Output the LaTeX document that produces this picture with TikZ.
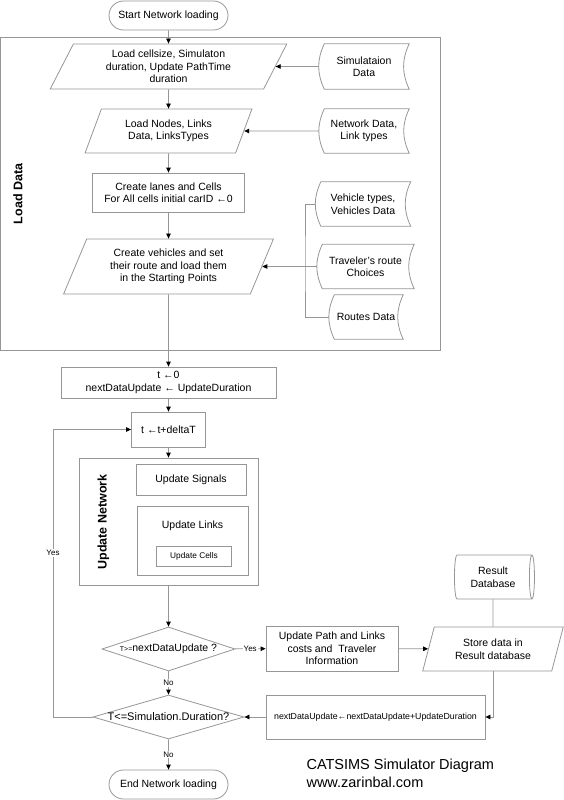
\documentclass[tikz,border=0pt]{standalone}
\usepackage{fontspec}
\setmainfont{Liberation Sans}
\usetikzlibrary{arrows.meta,shapes.geometric,shapes.misc,calc}
\definecolor{linegray}{RGB}{150,150,150}

\begin{document}
\begin{tikzpicture}[x=1pt,y=-1pt]
\tikzset{
  base/.style={font=\fontsize{10.5}{12.5}\selectfont,align=center,inner sep=1pt},
  terminal/.style={base,rounded rectangle,draw=linegray,line width=0.8pt,minimum width=121,minimum height=29},
  process/.style={base,rectangle,draw=linegray,line width=0.8pt},
  io/.style={base,trapezium,trapezium stretches=true,draw=linegray,line width=0.8pt},
  decision/.style={base,diamond,draw=linegray,line width=0.8pt,inner sep=0pt},
  datastore/.style={base},
  frame/.style={draw=linegray,line width=0.8pt,inner sep=0pt},
  boldlbl/.style={font=\bfseries\fontsize{12.5}{14}\selectfont},
  arr/.style={draw=linegray,line width=0.8pt,-{Triangle[length=5pt,width=4.5pt,color=black]}},
  plain/.style={draw=linegray,line width=0.8pt},
  lbl/.style={font=\fontsize{8}{9}\selectfont,fill=white,inner sep=1pt}
}
\useasboundingbox (0,0) rectangle (564,800);
\node[terminal] (start) at (168.5,15.5) {Start Network loading};
\node[frame,minimum width=440,minimum height=313] (loadframe) at (220.5,193.5) {};
\node[boldlbl,rotate=90] (loadlbl) at (18,194) {Load Data};
\node[io,trapezium left angle=66,trapezium right angle=114,minimum width=237,minimum height=45] (p1) at (168.5,66.5) {Load cellsize, Simulaton\\duration, Update PathTime\\duration};
\node[datastore,minimum width=90,minimum height=45] (simdata) at (364,66.5) {Simulataion\\Data};
\node[io,trapezium left angle=66,trapezium right angle=114,minimum width=167,minimum height=44] (p2) at (168.5,131) {Load Nodes, Links\\Data, LinksTypes};
\node[datastore,minimum width=90,minimum height=44] (netdata) at (364,131) {Network Data,\\Link types};
\node[process,minimum width=152,minimum height=39] (lanes) at (168.5,192.5) {Create lanes and Cells\\For All cells initial carID ←0};
\node[datastore,minimum width=95,minimum height=44] (vehdata) at (363,204) {Vehicle types,\\Vehicles Data};
\node[io,trapezium left angle=65.5,trapezium right angle=114.5,minimum width=210,minimum height=55] (p3) at (168.5,266.5) {Create vehicles and set\\their route and load them\\in the Starting Points};
\node[datastore,minimum width=97,minimum height=44] (travdata) at (365.5,266.5) {Traveler’s route\\Choices};
\node[datastore,minimum width=74,minimum height=44] (routedata) at (366,317) {Routes Data};
\coordinate (brk) at (305,266.5);
% stored data outlines
\foreach \d in {simdata,netdata,vehdata,travdata,routedata}
  \draw[plain] ([xshift=5.5pt]\d.north west) to[bend right=25] ([xshift=5.5pt]\d.south west) -- (\d.south east) to[bend left=25] (\d.north east) -- cycle;

\node[process,minimum width=215,minimum height=31] (tinit) at (168.5,382.5) {t ←0\\nextDataUpdate ←  UpdateDuration};
\node[process,minimum width=74,minimum height=35] (tstep) at (168.5,429.5) {t ←t+deltaT};
\node[frame,minimum width=179,minimum height=127] (updnet) at (168.5,521.5) {};
\node[boldlbl,rotate=90] (updnetlbl) at (103.5,522) {Update Network};
\node[process,minimum width=110,minimum height=31] (signals) at (191,479.5) {Update Signals};
\node[frame,minimum width=111,minimum height=69] (linksbox) at (192.5,540.5) {};
\node[base] (linkslbl) at (192.5,526) {Update Links};
\node[process,minimum width=74.5,minimum height=20,font=\fontsize{8.3}{10}\selectfont] (cells) at (194,556) {Update Cells};

\node[decision,minimum width=133,minimum height=44] (dnext) at (168.5,649) {\makebox[0pt]{{\fontsize{7}{8}\selectfont T>=}nextDataUpdate ?}};
\node[process,minimum width=132,minimum height=45] (updpath) at (332,648.5) {Update Path and Links\\costs and~ Traveler\\Information};
\node[io,trapezium left angle=71,trapezium right angle=109,minimum width=141,minimum height=44] (store) at (493,649) {Store data in\\Result database};
\node[base,cylinder,draw=linegray,line width=0.8pt,aspect=0.25,inner sep=0pt,minimum width=44,minimum height=80] (resultdb) at (493,577) {Result\\Database};
\node[process,minimum width=219,minimum height=44,inner sep=0pt,font=\fontsize{8.8}{10}\selectfont] (nextupd) at (375.5,717) {nextDataUpdate←nextDataUpdate+UpdateDuration};
\node[decision,minimum width=151,minimum height=44,font=\fontsize{11}{13}\selectfont] (dend) at (168.5,717) {\makebox[0pt]{T<=Simulation.Duration?}};
\coordinate (loopturn) at (53,717);
\node[terminal] (stop) at (168.5,784.5) {End Network loading};
\node[align=left,anchor=west,font=\fontsize{14.5}{18}\selectfont] (title) at (303,773) {CATSIMS Simulator Diagram\\www.zarinbal.com};

\draw[arr] (start) -- (p1);
\draw[arr] (p1) -- (p2);
\draw[arr] (p2) -- (lanes);
\draw[arr] (lanes) -- (p3);
\draw[arr] (p3) -- (tinit);
\draw[arr] (simdata) -- (p1);
\draw[arr] (netdata) -- (p2);
\draw[plain] (vehdata.west) -| (brk) |- (routedata.west);
\draw[arr] (travdata) -- (p3);
\draw[arr] (tinit) -- (tstep);
\draw[arr] (tstep) -- (updnet);
\draw[arr] (updnet) -- (dnext);
\draw[arr] (dnext) -- node[lbl]{No} (dend);
\draw[arr] (dend) -- node[lbl]{No} (stop);
\draw[arr] (dnext) -- node[lbl]{Yes} (updpath);
\draw[arr] (updpath) -- (store);
\draw[plain] (resultdb) -- (store);
\draw[arr] (resultdb.south |- store.south) |- (nextupd);
\draw[arr] (nextupd) -- (dend);
\draw[arr] (dend) -- (loopturn) |- node[lbl,pos=0.285]{Yes} (tstep);
\end{tikzpicture}
\end{document}
